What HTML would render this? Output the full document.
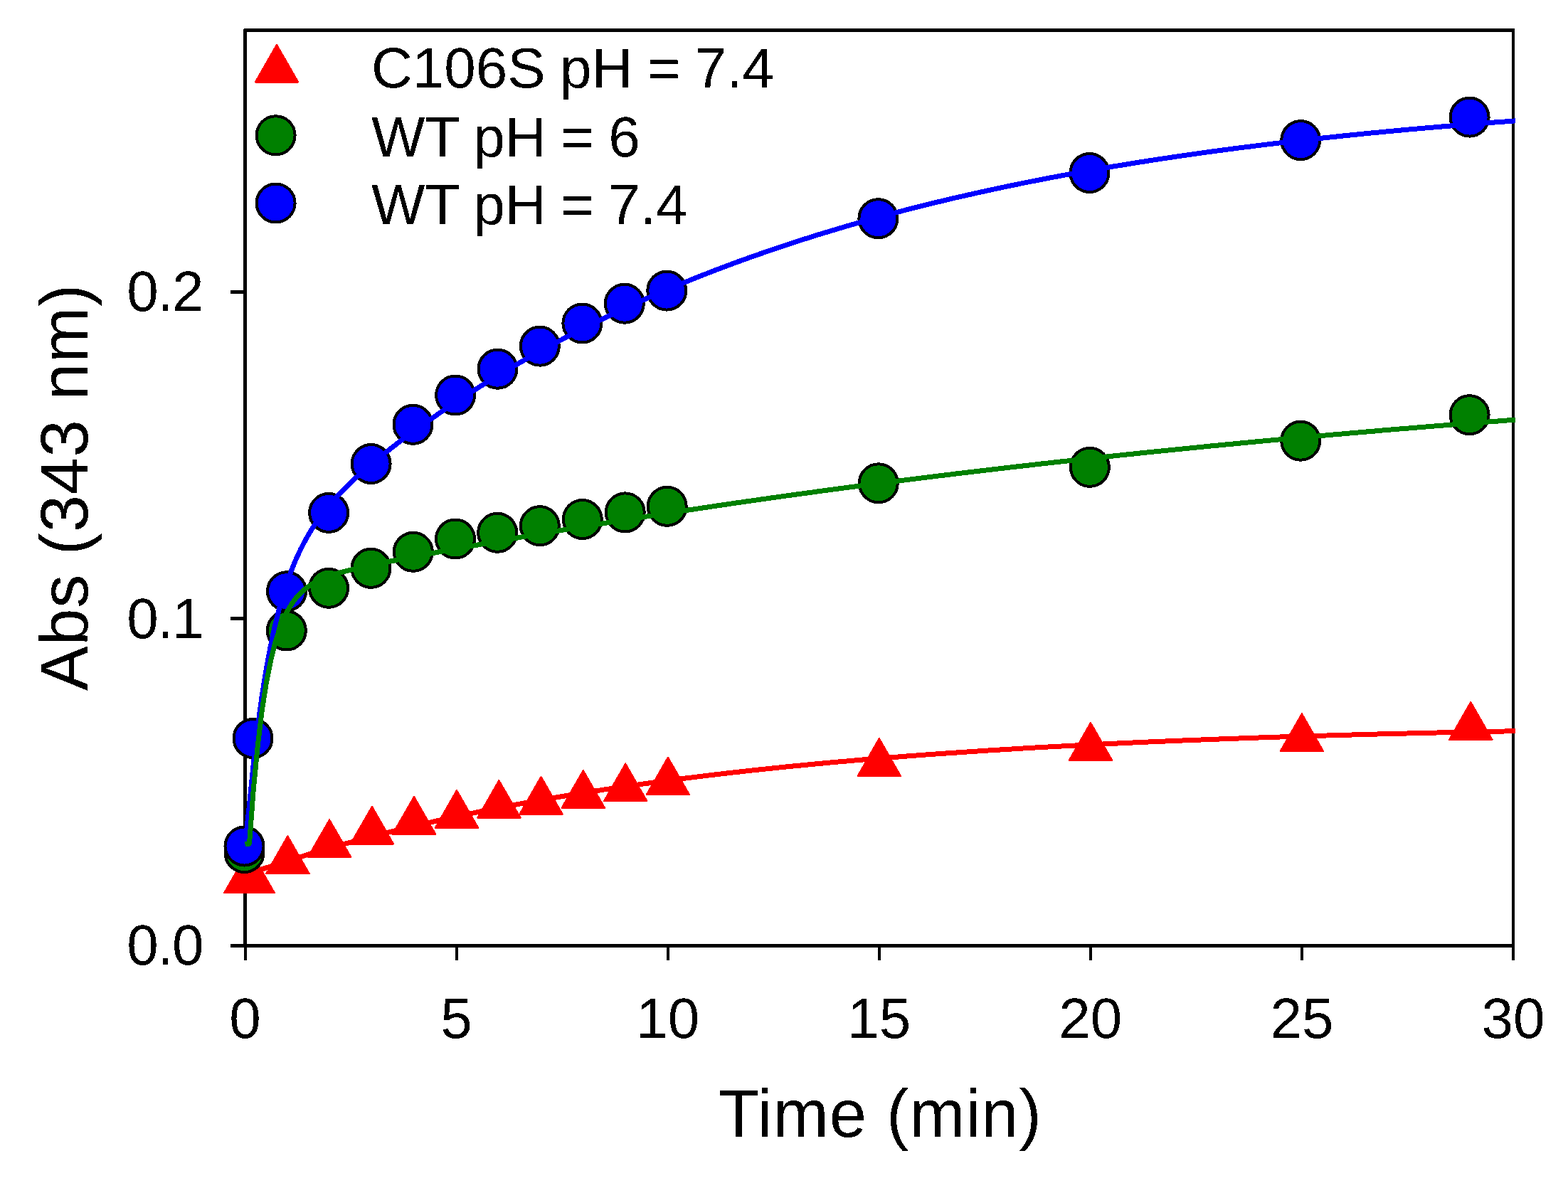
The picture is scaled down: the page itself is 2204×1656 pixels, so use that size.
<!DOCTYPE html>
<html><head><meta charset="utf-8"><title>Abs vs Time</title>
<style>html,body{margin:0;padding:0;background:#fff;}body{width:2204px;height:1656px;overflow:hidden;}svg{display:block;}</style>
</head><body>
<svg width="2204" height="1656" viewBox="0 0 2204 1656">
<defs><filter id="crisp"><feComponentTransfer><feFuncA type="discrete" tableValues="0 1"/></feComponentTransfer></filter></defs>
<rect width="2204" height="1656" fill="#fff"/>
<g shape-rendering="crispEdges">
<path d="M344.5,1329.5 L344.5,42.5 L2128,42.5 M344.5,1329.5 L2128,1329.5" fill="none" stroke="#000" stroke-width="5" stroke-linejoin="round"/>
<path d="M2127,40.0 L2127,1329.5" fill="none" stroke="#000" stroke-width="4"/>
<line x1="324.0" y1="1329.5" x2="344.5" y2="1329.5" stroke="#000" stroke-width="5"/>
<line x1="324.0" y1="869.9" x2="344.5" y2="869.9" stroke="#000" stroke-width="5"/>
<line x1="324.0" y1="410.2" x2="344.5" y2="410.2" stroke="#000" stroke-width="5"/>
<line x1="344.5" y1="1329.5" x2="344.5" y2="1350.0" stroke="#000" stroke-width="4"/>
<line x1="641.6" y1="1329.5" x2="641.6" y2="1350.0" stroke="#000" stroke-width="4"/>
<line x1="938.7" y1="1329.5" x2="938.7" y2="1350.0" stroke="#000" stroke-width="4"/>
<line x1="1235.8" y1="1329.5" x2="1235.8" y2="1350.0" stroke="#000" stroke-width="4"/>
<line x1="1532.8" y1="1329.5" x2="1532.8" y2="1350.0" stroke="#000" stroke-width="4"/>
<line x1="1829.9" y1="1329.5" x2="1829.9" y2="1350.0" stroke="#000" stroke-width="4"/>
<line x1="2127.0" y1="1329.5" x2="2127.0" y2="1350.0" stroke="#000" stroke-width="4"/>
<polygon points="345.2,1202.6 375.6,1255.4 314.9,1255.4" fill="#ff0000" stroke="#ff0000" stroke-width="2" stroke-linejoin="round"/>
<polygon points="355.8,1202.6 386.1,1255.4 325.4,1255.4" fill="#ff0000" stroke="#ff0000" stroke-width="2" stroke-linejoin="round"/>
<polygon points="404.4,1175.2 434.7,1228.0 374.1,1228.0" fill="#ff0000" stroke="#ff0000" stroke-width="2" stroke-linejoin="round"/>
<polygon points="463.1,1152.1 493.4,1204.9 432.8,1204.9" fill="#ff0000" stroke="#ff0000" stroke-width="2" stroke-linejoin="round"/>
<polygon points="522.9,1133.7 553.2,1186.5 492.6,1186.5" fill="#ff0000" stroke="#ff0000" stroke-width="2" stroke-linejoin="round"/>
<polygon points="582.0,1119.8 612.3,1172.6 551.7,1172.6" fill="#ff0000" stroke="#ff0000" stroke-width="2" stroke-linejoin="round"/>
<polygon points="642.0,1110.9 672.3,1163.7 611.7,1163.7" fill="#ff0000" stroke="#ff0000" stroke-width="2" stroke-linejoin="round"/>
<polygon points="701.4,1096.9 731.7,1149.7 671.1,1149.7" fill="#ff0000" stroke="#ff0000" stroke-width="2" stroke-linejoin="round"/>
<polygon points="760.5,1091.8 790.8,1144.6 730.2,1144.6" fill="#ff0000" stroke="#ff0000" stroke-width="2" stroke-linejoin="round"/>
<polygon points="819.8,1082.9 850.1,1135.7 789.5,1135.7" fill="#ff0000" stroke="#ff0000" stroke-width="2" stroke-linejoin="round"/>
<polygon points="879.2,1073.4 909.5,1126.2 848.9,1126.2" fill="#ff0000" stroke="#ff0000" stroke-width="2" stroke-linejoin="round"/>
<polygon points="938.9,1064.5 969.2,1117.3 908.6,1117.3" fill="#ff0000" stroke="#ff0000" stroke-width="2" stroke-linejoin="round"/>
<polygon points="1235.8,1038.0 1266.1,1090.8 1205.5,1090.8" fill="#ff0000" stroke="#ff0000" stroke-width="2" stroke-linejoin="round"/>
<polygon points="1533.0,1015.9 1563.3,1068.7 1502.7,1068.7" fill="#ff0000" stroke="#ff0000" stroke-width="2" stroke-linejoin="round"/>
<polygon points="1829.9,1003.2 1860.2,1056.0 1799.6,1056.0" fill="#ff0000" stroke="#ff0000" stroke-width="2" stroke-linejoin="round"/>
<polygon points="2067.3,986.9 2097.6,1039.7 2037.0,1039.7" fill="#ff0000" stroke="#ff0000" stroke-width="2" stroke-linejoin="round"/>
<polyline points="344.5,1230.1 350.5,1228.0 356.4,1226.0 362.4,1223.9 368.3,1221.9 374.3,1219.9 380.3,1218.0 386.2,1216.0 392.2,1214.1 398.2,1212.1 404.1,1210.3 410.1,1208.4 416.0,1206.5 422.0,1204.7 428.0,1202.8 433.9,1201.0 439.9,1199.2 445.8,1197.5 451.8,1195.7 457.8,1194.0 463.7,1192.3 469.7,1190.6 475.7,1188.9 481.6,1187.2 487.6,1185.5 493.5,1183.9 499.5,1182.3 505.5,1180.7 511.4,1179.1 517.4,1177.5 523.3,1175.9 529.3,1174.4 535.3,1172.9 541.2,1171.3 547.2,1169.8 553.2,1168.4 559.1,1166.9 565.1,1165.4 571.0,1164.0 577.0,1162.5 583.0,1161.1 588.9,1159.7 594.9,1158.3 600.8,1157.0 606.8,1155.6 612.8,1154.2 618.7,1152.9 624.7,1151.6 630.7,1150.3 636.6,1149.0 642.6,1147.7 648.5,1146.4 654.5,1145.2 660.5,1143.9 666.4,1142.7 672.4,1141.4 678.3,1140.2 684.3,1139.0 690.3,1137.8 696.2,1136.7 702.2,1135.5 708.2,1134.3 714.1,1133.2 720.1,1132.1 726.0,1130.9 732.0,1129.8 738.0,1128.7 743.9,1127.6 749.9,1126.6 755.8,1125.5 761.8,1124.4 767.8,1123.4 773.7,1122.3 779.7,1121.3 785.7,1120.3 791.6,1119.3 797.6,1118.3 803.5,1117.3 809.5,1116.3 815.5,1115.4 821.4,1114.4 827.4,1113.4 833.3,1112.5 839.3,1111.6 845.3,1110.6 851.2,1109.7 857.2,1108.8 863.2,1107.9 869.1,1107.0 875.1,1106.2 881.0,1105.3 887.0,1104.4 893.0,1103.6 898.9,1102.7 904.9,1101.9 910.8,1101.1 916.8,1100.2 922.8,1099.4 928.7,1098.6 934.7,1097.8 940.7,1097.0 946.6,1096.2 952.6,1095.5 958.5,1094.7 964.5,1093.9 970.5,1093.2 976.4,1092.4 982.4,1091.7 988.3,1091.0 994.3,1090.2 1000.3,1089.5 1006.2,1088.8 1012.2,1088.1 1018.2,1087.4 1024.1,1086.7 1030.1,1086.0 1036.0,1085.4 1042.0,1084.7 1048.0,1084.0 1053.9,1083.4 1059.9,1082.7 1065.8,1082.1 1071.8,1081.4 1077.8,1080.8 1083.7,1080.2 1089.7,1079.6 1095.7,1078.9 1101.6,1078.3 1107.6,1077.7 1113.5,1077.1 1119.5,1076.5 1125.5,1076.0 1131.4,1075.4 1137.4,1074.8 1143.3,1074.2 1149.3,1073.7 1155.3,1073.1 1161.2,1072.6 1167.2,1072.0 1173.2,1071.5 1179.1,1070.9 1185.1,1070.4 1191.0,1069.9 1197.0,1069.4 1203.0,1068.8 1208.9,1068.3 1214.9,1067.8 1220.8,1067.3 1226.8,1066.8 1232.8,1066.3 1238.7,1065.9 1244.7,1065.4 1250.7,1064.9 1256.6,1064.4 1262.6,1064.0 1268.5,1063.5 1274.5,1063.0 1280.5,1062.6 1286.4,1062.1 1292.4,1061.7 1298.3,1061.2 1304.3,1060.8 1310.3,1060.4 1316.2,1059.9 1322.2,1059.5 1328.2,1059.1 1334.1,1058.7 1340.1,1058.3 1346.0,1057.9 1352.0,1057.5 1358.0,1057.1 1363.9,1056.7 1369.9,1056.3 1375.8,1055.9 1381.8,1055.5 1387.8,1055.1 1393.7,1054.7 1399.7,1054.4 1405.7,1054.0 1411.6,1053.6 1417.6,1053.3 1423.5,1052.9 1429.5,1052.5 1435.5,1052.2 1441.4,1051.8 1447.4,1051.5 1453.3,1051.1 1459.3,1050.8 1465.3,1050.5 1471.2,1050.1 1477.2,1049.8 1483.2,1049.5 1489.1,1049.2 1495.1,1048.8 1501.0,1048.5 1507.0,1048.2 1513.0,1047.9 1518.9,1047.6 1524.9,1047.3 1530.8,1047.0 1536.8,1046.7 1542.8,1046.4 1548.7,1046.1 1554.7,1045.8 1560.7,1045.5 1566.6,1045.2 1572.6,1044.9 1578.5,1044.7 1584.5,1044.4 1590.5,1044.1 1596.4,1043.8 1602.4,1043.6 1608.3,1043.3 1614.3,1043.0 1620.3,1042.8 1626.2,1042.5 1632.2,1042.3 1638.2,1042.0 1644.1,1041.8 1650.1,1041.5 1656.0,1041.3 1662.0,1041.0 1668.0,1040.8 1673.9,1040.5 1679.9,1040.3 1685.8,1040.1 1691.8,1039.8 1697.8,1039.6 1703.7,1039.4 1709.7,1039.2 1715.7,1038.9 1721.6,1038.7 1727.6,1038.5 1733.5,1038.3 1739.5,1038.1 1745.5,1037.8 1751.4,1037.6 1757.4,1037.4 1763.3,1037.2 1769.3,1037.0 1775.3,1036.8 1781.2,1036.6 1787.2,1036.4 1793.2,1036.2 1799.1,1036.0 1805.1,1035.8 1811.0,1035.6 1817.0,1035.4 1823.0,1035.3 1828.9,1035.1 1834.9,1034.9 1840.8,1034.7 1846.8,1034.5 1852.8,1034.3 1858.7,1034.2 1864.7,1034.0 1870.7,1033.8 1876.6,1033.6 1882.6,1033.5 1888.5,1033.3 1894.5,1033.1 1900.5,1033.0 1906.4,1032.8 1912.4,1032.7 1918.3,1032.5 1924.3,1032.3 1930.3,1032.2 1936.2,1032.0 1942.2,1031.9 1948.2,1031.7 1954.1,1031.6 1960.1,1031.4 1966.0,1031.3 1972.0,1031.1 1978.0,1031.0 1983.9,1030.8 1989.9,1030.7 1995.8,1030.5 2001.8,1030.4 2007.8,1030.3 2013.7,1030.1 2019.7,1030.0 2025.7,1029.9 2031.6,1029.7 2037.6,1029.6 2043.5,1029.5 2049.5,1029.3 2055.5,1029.2 2061.4,1029.1 2067.4,1028.9 2073.3,1028.8 2079.3,1028.7 2085.3,1028.6 2091.2,1028.5 2097.2,1028.3 2103.2,1028.2 2109.1,1028.1 2115.1,1028.0 2121.0,1027.9 2127.0,1027.7 2130.0,1027.7" fill="none" stroke="#ff0000" stroke-width="7" stroke-linejoin="round"/>
<circle cx="343.5" cy="1199.0" r="27.0" fill="#008000" stroke="#000" stroke-width="4"/>
<circle cx="402.8" cy="886.5" r="27.0" fill="#008000" stroke="#000" stroke-width="4"/>
<circle cx="462.0" cy="826.8" r="27.0" fill="#008000" stroke="#000" stroke-width="4"/>
<circle cx="521.5" cy="798.8" r="27.0" fill="#008000" stroke="#000" stroke-width="4"/>
<circle cx="580.8" cy="775.8" r="27.0" fill="#008000" stroke="#000" stroke-width="4"/>
<circle cx="640.0" cy="757.5" r="27.0" fill="#008000" stroke="#000" stroke-width="4"/>
<circle cx="699.2" cy="748.8" r="27.0" fill="#008000" stroke="#000" stroke-width="4"/>
<circle cx="758.8" cy="739.2" r="27.0" fill="#008000" stroke="#000" stroke-width="4"/>
<circle cx="818.8" cy="730.0" r="27.0" fill="#008000" stroke="#000" stroke-width="4"/>
<circle cx="878.7" cy="720.4" r="27.0" fill="#008000" stroke="#000" stroke-width="4"/>
<circle cx="937.7" cy="711.8" r="27.0" fill="#008000" stroke="#000" stroke-width="4"/>
<circle cx="1234.8" cy="679.3" r="27.0" fill="#008000" stroke="#000" stroke-width="4"/>
<circle cx="1531.9" cy="656.8" r="27.0" fill="#008000" stroke="#000" stroke-width="4"/>
<circle cx="1828.2" cy="619.7" r="27.0" fill="#008000" stroke="#000" stroke-width="4"/>
<circle cx="2065.6" cy="583.2" r="27.0" fill="#008000" stroke="#000" stroke-width="4"/>
<circle cx="343.5" cy="1189.5" r="27.0" fill="#0000ff" stroke="#000" stroke-width="4"/>
<circle cx="355.5" cy="1038.0" r="27.0" fill="#0000ff" stroke="#000" stroke-width="4"/>
<circle cx="403.0" cy="831.2" r="27.0" fill="#0000ff" stroke="#000" stroke-width="4"/>
<circle cx="462.1" cy="720.9" r="27.0" fill="#0000ff" stroke="#000" stroke-width="4"/>
<circle cx="521.6" cy="652.0" r="27.0" fill="#0000ff" stroke="#000" stroke-width="4"/>
<circle cx="580.5" cy="596.8" r="27.0" fill="#0000ff" stroke="#000" stroke-width="4"/>
<circle cx="640.1" cy="555.5" r="27.0" fill="#0000ff" stroke="#000" stroke-width="4"/>
<circle cx="699.5" cy="518.7" r="27.0" fill="#0000ff" stroke="#000" stroke-width="4"/>
<circle cx="758.8" cy="486.6" r="27.0" fill="#0000ff" stroke="#000" stroke-width="4"/>
<circle cx="818.4" cy="454.5" r="27.0" fill="#0000ff" stroke="#000" stroke-width="4"/>
<circle cx="877.8" cy="426.7" r="27.0" fill="#0000ff" stroke="#000" stroke-width="4"/>
<circle cx="937.3" cy="408.6" r="27.0" fill="#0000ff" stroke="#000" stroke-width="4"/>
<circle cx="1234.4" cy="307.2" r="27.0" fill="#0000ff" stroke="#000" stroke-width="4"/>
<circle cx="1531.5" cy="243.0" r="27.0" fill="#0000ff" stroke="#000" stroke-width="4"/>
<circle cx="1828.2" cy="197.1" r="27.0" fill="#0000ff" stroke="#000" stroke-width="4"/>
<circle cx="2065.6" cy="164.6" r="27.0" fill="#0000ff" stroke="#000" stroke-width="4"/>
<polyline points="344.5,1187.0 350.5,1131.7 356.4,1071.9 362.4,1021.0 368.3,977.5 374.3,940.2 380.3,908.2 386.2,880.5 392.2,856.4 398.2,835.4 404.1,817.0 410.1,800.7 416.0,786.3 422.0,773.3 428.0,761.7 433.9,751.1 439.9,741.4 445.8,732.5 451.8,724.2 457.8,716.5 463.7,709.2 469.7,702.4 475.7,695.8 481.6,689.6 487.6,683.6 493.5,677.8 499.5,672.3 505.5,666.8 511.4,661.6 517.4,656.4 523.3,651.4 529.3,646.4 535.3,641.6 541.2,636.8 547.2,632.1 553.2,627.5 559.1,622.9 565.1,618.4 571.0,614.0 577.0,609.6 583.0,605.2 588.9,600.9 594.9,596.7 600.8,592.4 606.8,588.3 612.8,584.2 618.7,580.1 624.7,576.0 630.7,572.0 636.6,568.0 642.6,564.1 648.5,560.2 654.5,556.3 660.5,552.5 666.4,548.7 672.4,544.9 678.3,541.2 684.3,537.5 690.3,533.9 696.2,530.2 702.2,526.6 708.2,523.1 714.1,519.5 720.1,516.0 726.0,512.6 732.0,509.1 738.0,505.7 743.9,502.3 749.9,499.0 755.8,495.7 761.8,492.4 767.8,489.1 773.7,485.9 779.7,482.7 785.7,479.5 791.6,476.3 797.6,473.2 803.5,470.1 809.5,467.1 815.5,464.0 821.4,461.0 827.4,458.0 833.3,455.0 839.3,452.1 845.3,449.2 851.2,446.3 857.2,443.5 863.2,440.6 869.1,437.8 875.1,435.0 881.0,432.3 887.0,429.5 893.0,426.8 898.9,424.1 904.9,421.5 910.8,418.8 916.8,416.2 922.8,413.6 928.7,411.1 934.7,408.5 940.7,406.0 946.6,403.5 952.6,401.0 958.5,398.5 964.5,396.1 970.5,393.7 976.4,391.3 982.4,388.9 988.3,386.5 994.3,384.2 1000.3,381.9 1006.2,379.6 1012.2,377.3 1018.2,375.1 1024.1,372.9 1030.1,370.6 1036.0,368.4 1042.0,366.3 1048.0,364.1 1053.9,362.0 1059.9,359.9 1065.8,357.8 1071.8,355.7 1077.8,353.6 1083.7,351.6 1089.7,349.5 1095.7,347.5 1101.6,345.5 1107.6,343.6 1113.5,341.6 1119.5,339.7 1125.5,337.8 1131.4,335.8 1137.4,334.0 1143.3,332.1 1149.3,330.2 1155.3,328.4 1161.2,326.6 1167.2,324.8 1173.2,323.0 1179.1,321.2 1185.1,319.4 1191.0,317.7 1197.0,316.0 1203.0,314.2 1208.9,312.5 1214.9,310.9 1220.8,309.2 1226.8,307.5 1232.8,305.9 1238.7,304.3 1244.7,302.7 1250.7,301.1 1256.6,299.5 1262.6,297.9 1268.5,296.4 1274.5,294.8 1280.5,293.3 1286.4,291.8 1292.4,290.3 1298.3,288.8 1304.3,287.3 1310.3,285.8 1316.2,284.4 1322.2,283.0 1328.2,281.5 1334.1,280.1 1340.1,278.7 1346.0,277.3 1352.0,276.0 1358.0,274.6 1363.9,273.3 1369.9,271.9 1375.8,270.6 1381.8,269.3 1387.8,268.0 1393.7,266.7 1399.7,265.4 1405.7,264.1 1411.6,262.9 1417.6,261.6 1423.5,260.4 1429.5,259.2 1435.5,257.9 1441.4,256.7 1447.4,255.5 1453.3,254.4 1459.3,253.2 1465.3,252.0 1471.2,250.9 1477.2,249.7 1483.2,248.6 1489.1,247.5 1495.1,246.4 1501.0,245.3 1507.0,244.2 1513.0,243.1 1518.9,242.0 1524.9,240.9 1530.8,239.9 1536.8,238.8 1542.8,237.8 1548.7,236.8 1554.7,235.8 1560.7,234.7 1566.6,233.7 1572.6,232.8 1578.5,231.8 1584.5,230.8 1590.5,229.8 1596.4,228.9 1602.4,227.9 1608.3,227.0 1614.3,226.0 1620.3,225.1 1626.2,224.2 1632.2,223.3 1638.2,222.4 1644.1,221.5 1650.1,220.6 1656.0,219.7 1662.0,218.9 1668.0,218.0 1673.9,217.2 1679.9,216.3 1685.8,215.5 1691.8,214.6 1697.8,213.8 1703.7,213.0 1709.7,212.2 1715.7,211.4 1721.6,210.6 1727.6,209.8 1733.5,209.0 1739.5,208.2 1745.5,207.5 1751.4,206.7 1757.4,206.0 1763.3,205.2 1769.3,204.5 1775.3,203.7 1781.2,203.0 1787.2,202.3 1793.2,201.6 1799.1,200.9 1805.1,200.2 1811.0,199.5 1817.0,198.8 1823.0,198.1 1828.9,197.4 1834.9,196.7 1840.8,196.1 1846.8,195.4 1852.8,194.7 1858.7,194.1 1864.7,193.5 1870.7,192.8 1876.6,192.2 1882.6,191.6 1888.5,190.9 1894.5,190.3 1900.5,189.7 1906.4,189.1 1912.4,188.5 1918.3,187.9 1924.3,187.3 1930.3,186.7 1936.2,186.2 1942.2,185.6 1948.2,185.0 1954.1,184.4 1960.1,183.9 1966.0,183.3 1972.0,182.8 1978.0,182.2 1983.9,181.7 1989.9,181.2 1995.8,180.6 2001.8,180.1 2007.8,179.6 2013.7,179.1 2019.7,178.6 2025.7,178.1 2031.6,177.5 2037.6,177.1 2043.5,176.6 2049.5,176.1 2055.5,175.6 2061.4,175.1 2067.4,174.6 2073.3,174.1 2079.3,173.7 2085.3,173.2 2091.2,172.8 2097.2,172.3 2103.2,171.8 2109.1,171.4 2115.1,171.0 2121.0,170.5 2127.0,170.1 2130.0,169.9" fill="none" stroke="#0000ff" stroke-width="7" stroke-linejoin="round"/>
<polyline points="344.5,1187.0 350.5,1186.0 356.4,1108.2 362.4,1046.9 368.3,998.5 374.3,960.1 380.3,929.8 386.2,905.6 392.2,886.4 398.2,871.1 404.1,858.7 410.1,848.8 416.0,840.7 422.0,834.1 428.0,828.6 433.9,824.1 439.9,820.3 445.8,817.0 451.8,814.1 457.8,811.7 463.7,809.5 469.7,807.5 475.7,805.6 481.6,804.0 487.6,802.4 493.5,800.9 499.5,799.5 505.5,798.1 511.4,796.8 517.4,795.5 523.3,794.2 529.3,793.0 535.3,791.7 541.2,790.5 547.2,789.3 553.2,788.2 559.1,787.0 565.1,785.8 571.0,784.7 577.0,783.5 583.0,782.4 588.9,781.2 594.9,780.1 600.8,779.0 606.8,777.9 612.8,776.7 618.7,775.6 624.7,774.5 630.7,773.4 636.6,772.3 642.6,771.2 648.5,770.1 654.5,769.0 660.5,768.0 666.4,766.9 672.4,765.8 678.3,764.7 684.3,763.7 690.3,762.6 696.2,761.5 702.2,760.5 708.2,759.4 714.1,758.4 720.1,757.3 726.0,756.3 732.0,755.2 738.0,754.2 743.9,753.2 749.9,752.1 755.8,751.1 761.8,750.1 767.8,749.1 773.7,748.1 779.7,747.1 785.7,746.0 791.6,745.0 797.6,744.0 803.5,743.1 809.5,742.1 815.5,741.1 821.4,740.1 827.4,739.1 833.3,738.1 839.3,737.1 845.3,736.2 851.2,735.2 857.2,734.2 863.2,733.3 869.1,732.3 875.1,731.4 881.0,730.4 887.0,729.5 893.0,728.5 898.9,727.6 904.9,726.7 910.8,725.7 916.8,724.8 922.8,723.9 928.7,722.9 934.7,722.0 940.7,721.1 946.6,720.2 952.6,719.3 958.5,718.4 964.5,717.5 970.5,716.6 976.4,715.7 982.4,714.8 988.3,713.9 994.3,713.0 1000.3,712.1 1006.2,711.2 1012.2,710.3 1018.2,709.5 1024.1,708.6 1030.1,707.7 1036.0,706.8 1042.0,706.0 1048.0,705.1 1053.9,704.3 1059.9,703.4 1065.8,702.6 1071.8,701.7 1077.8,700.9 1083.7,700.0 1089.7,699.2 1095.7,698.3 1101.6,697.5 1107.6,696.7 1113.5,695.9 1119.5,695.0 1125.5,694.2 1131.4,693.4 1137.4,692.6 1143.3,691.8 1149.3,690.9 1155.3,690.1 1161.2,689.3 1167.2,688.5 1173.2,687.7 1179.1,686.9 1185.1,686.1 1191.0,685.3 1197.0,684.6 1203.0,683.8 1208.9,683.0 1214.9,682.2 1220.8,681.4 1226.8,680.7 1232.8,679.9 1238.7,679.1 1244.7,678.4 1250.7,677.6 1256.6,676.8 1262.6,676.1 1268.5,675.3 1274.5,674.6 1280.5,673.8 1286.4,673.1 1292.4,672.3 1298.3,671.6 1304.3,670.8 1310.3,670.1 1316.2,669.4 1322.2,668.6 1328.2,667.9 1334.1,667.2 1340.1,666.5 1346.0,665.7 1352.0,665.0 1358.0,664.3 1363.9,663.6 1369.9,662.9 1375.8,662.2 1381.8,661.5 1387.8,660.8 1393.7,660.1 1399.7,659.4 1405.7,658.7 1411.6,658.0 1417.6,657.3 1423.5,656.6 1429.5,655.9 1435.5,655.2 1441.4,654.6 1447.4,653.9 1453.3,653.2 1459.3,652.5 1465.3,651.8 1471.2,651.2 1477.2,650.5 1483.2,649.8 1489.1,649.2 1495.1,648.5 1501.0,647.9 1507.0,647.2 1513.0,646.6 1518.9,645.9 1524.9,645.3 1530.8,644.6 1536.8,644.0 1542.8,643.3 1548.7,642.7 1554.7,642.1 1560.7,641.4 1566.6,640.8 1572.6,640.2 1578.5,639.5 1584.5,638.9 1590.5,638.3 1596.4,637.7 1602.4,637.0 1608.3,636.4 1614.3,635.8 1620.3,635.2 1626.2,634.6 1632.2,634.0 1638.2,633.4 1644.1,632.8 1650.1,632.2 1656.0,631.6 1662.0,631.0 1668.0,630.4 1673.9,629.8 1679.9,629.2 1685.8,628.6 1691.8,628.0 1697.8,627.4 1703.7,626.8 1709.7,626.3 1715.7,625.7 1721.6,625.1 1727.6,624.5 1733.5,624.0 1739.5,623.4 1745.5,622.8 1751.4,622.3 1757.4,621.7 1763.3,621.1 1769.3,620.6 1775.3,620.0 1781.2,619.5 1787.2,618.9 1793.2,618.3 1799.1,617.8 1805.1,617.2 1811.0,616.7 1817.0,616.2 1823.0,615.6 1828.9,615.1 1834.9,614.5 1840.8,614.0 1846.8,613.5 1852.8,612.9 1858.7,612.4 1864.7,611.9 1870.7,611.3 1876.6,610.8 1882.6,610.3 1888.5,609.8 1894.5,609.2 1900.5,608.7 1906.4,608.2 1912.4,607.7 1918.3,607.2 1924.3,606.7 1930.3,606.2 1936.2,605.7 1942.2,605.1 1948.2,604.6 1954.1,604.1 1960.1,603.6 1966.0,603.1 1972.0,602.6 1978.0,602.2 1983.9,601.7 1989.9,601.2 1995.8,600.7 2001.8,600.2 2007.8,599.7 2013.7,599.2 2019.7,598.7 2025.7,598.3 2031.6,597.8 2037.6,597.3 2043.5,596.8 2049.5,596.3 2055.5,595.9 2061.4,595.4 2067.4,594.9 2073.3,594.5 2079.3,594.0 2085.3,593.5 2091.2,593.1 2097.2,592.6 2103.2,592.2 2109.1,591.7 2115.1,591.2 2121.0,590.8 2127.0,590.3 2130.0,590.1" fill="none" stroke="#008000" stroke-width="7" stroke-linejoin="round"/>
<polygon points="389.0,62.7 419.3,115.5 358.7,115.5" fill="#ff0000" stroke="#ff0000" stroke-width="2" stroke-linejoin="round"/>
<circle cx="387.6" cy="190.3" r="27.0" fill="#008000" stroke="#000" stroke-width="4"/>
<circle cx="387.6" cy="285.5" r="27.0" fill="#0000ff" stroke="#000" stroke-width="4"/>
</g>
<g font-family="'Liberation Sans', Arial, sans-serif" fill="#000" filter="url(#crisp)">
<text x="285" y="1356.3" font-size="80" text-anchor="end" letter-spacing="-1.5">0.0</text>
<text x="285" y="896.7" font-size="80" text-anchor="end" letter-spacing="-1.5">0.1</text>
<text x="285" y="437.0" font-size="80" text-anchor="end" letter-spacing="-1.5">0.2</text>
<text x="344.5" y="1458.5" font-size="80" text-anchor="middle">0</text>
<text x="641.6" y="1458.5" font-size="80" text-anchor="middle">5</text>
<text x="938.7" y="1458.5" font-size="80" text-anchor="middle">10</text>
<text x="1235.8" y="1458.5" font-size="80" text-anchor="middle">15</text>
<text x="1532.8" y="1458.5" font-size="80" text-anchor="middle">20</text>
<text x="1829.9" y="1458.5" font-size="80" text-anchor="middle">25</text>
<text x="2127.0" y="1458.5" font-size="80" text-anchor="middle">30</text>
<text x="1010" y="1598" font-size="94" letter-spacing="0.9">Time (min)</text>
<text transform="translate(123,971) rotate(-90)" font-size="94" letter-spacing="0.65">Abs (343 nm)</text>
<text x="522" y="123.2" font-size="80" word-spacing="-1.8">C106S pH = 7.4</text>
<text x="522" y="219.5" font-size="80" word-spacing="-1.8">WT pH = 6</text>
<text x="522" y="314.5" font-size="80" word-spacing="-1.8">WT pH = 7.4</text>
</g>
</svg>
</body></html>
